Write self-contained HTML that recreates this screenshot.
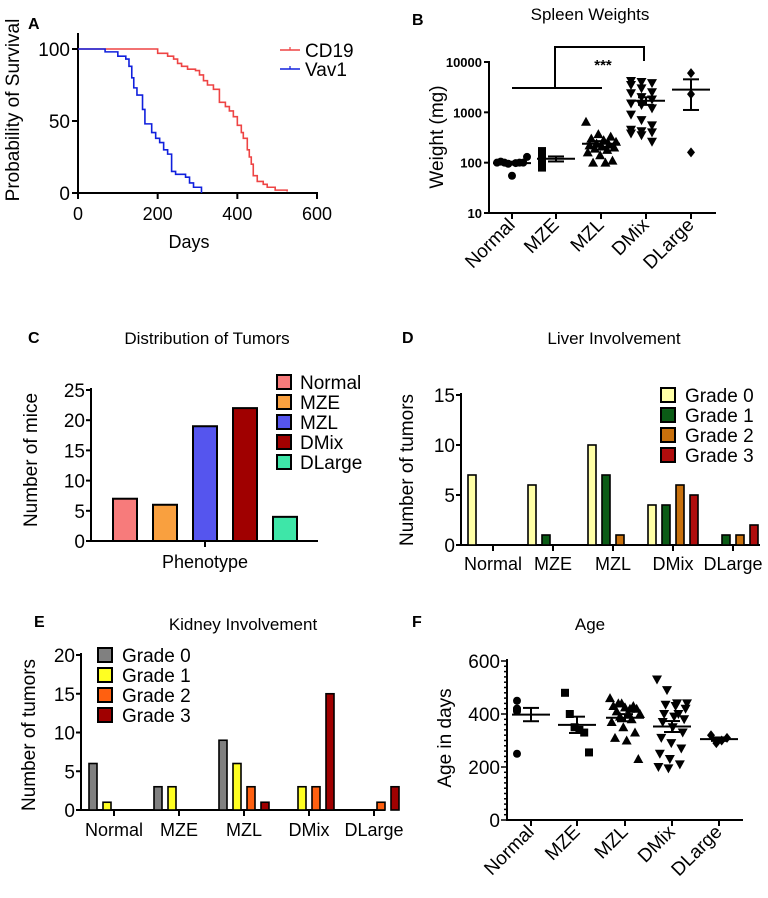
<!DOCTYPE html>
<html><head><meta charset="utf-8"><style>
html,body{margin:0;padding:0;background:#fff}
svg{display:block;font-family:"Liberation Sans",Arial,sans-serif}
</style></head><body>
<svg id="fig" width="768" height="898" viewBox="0 0 768 898" xmlns="http://www.w3.org/2000/svg"></svg>
<script>
// ---- Panel A data (Kaplan-Meier steps: day, percent) ----
const cd19Days = [0,200,225,240,250,260,275,295,305,315,325,340,355,370,380,390,400,410,415,425,430,435,440,450,465,475,495,525];
const cd19Surv = [100,97,95,93,90,88,86,85,82,78,75,72,63,60,57,53,47,42,38,30,25,20,12,8,6,4,2,1];
const vav1Days = [0,68,100,120,128,135,140,148,162,168,185,195,205,215,225,235,245,270,280,290,310];
const vav1Surv = [100,98,95,93,88,80,73,68,58,48,42,38,35,30,27,15,13,11,7,4,0];
const aXTicks = [0,200,400,600];
const aYTicks = [0,50,100];
// ---- Panel B data ----
const bCats = ["Normal","MZE","MZL","DMix","DLarge"];
const bNormal = [100,100,98,95,105,130,100,55,100];
const bMZE = [170,160,130,115,100,80,80];
const bMZL = [650,370,330,300,280,260,240,230,220,210,200,190,180,160,140,110,100,100];
const bDMix = [4200,4000,3800,3500,3000,2500,2400,2000,1800,1500,1400,1200,900,700,550,450,420,400,380,350,260];
const bDLarge = [6000,2300,160];
const bYTicks = [10,100,1000,10000];
// ---- Panel C data ----
const cCats = ["Normal","MZE","MZL","DMix","DLarge"];
const cCounts = [7,6,19,22,4];
const cYTicks = [0,5,10,15,20,25];
// ---- Panel D data ----
const dCats = ["Normal","MZE","MZL","DMix","DLarge"];
const dGrade0 = [7,6,10,4,0];
const dGrade1 = [0,1,7,4,1];
const dGrade2 = [0,0,1,6,1];
const dGrade3 = [0,0,0,5,2];
const dYTicks = [0,5,10,15];
// ---- Panel E data ----
const eCats = ["Normal","MZE","MZL","DMix","DLarge"];
const eGrade0 = [6,3,9,0,0];
const eGrade1 = [1,3,6,3,0];
const eGrade2 = [0,0,3,3,1];
const eGrade3 = [0,0,1,15,3];
const eYTicks = [0,5,10,15,20];
// ---- Panel F data ----
const fNormal = [450,420,420,410,415,420,250];
const fMZE = [480,400,350,340,330,255];
const fMZL = [460,440,430,430,425,420,410,400,400,390,380,370,350,330,310,300,230,440,420];
const fDMix = [530,490,440,440,435,430,420,400,390,380,370,350,330,310,290,270,250,230,210,200,195,400];
const fDLarge = [320,310,300,290];
const fYTicks = [0,200,400,600];

const NS="http://www.w3.org/2000/svg";
const svg=document.getElementById('fig');
function mk(tag,attrs,name,parent){
  const el=document.createElementNS(NS,tag);
  for(const k in attrs) el.setAttribute(k,attrs[k]);
  
  
  (parent||svg).appendChild(el);
  return el;
}
function txt(x,y,s,size,name,opts){
  opts=opts||{};
  const a={x:x,y:y,'font-size':size,fill:'#000'};
  if(opts.anchor) a['text-anchor']=opts.anchor;
  if(opts.weight) a['font-weight']=opts.weight;
  if(opts.rot!==undefined) a.transform='rotate('+opts.rot+' '+x+' '+y+')';
  const t=mk('text',a,name);
  t.textContent=s;
  return t;
}
function line(x1,y1,x2,y2,name,w,c){
  return mk('line',{x1:x1,y1:y1,x2:x2,y2:y2,stroke:c||'#000','stroke-width':w||2},name);
}

// ================= Panel A =================
(function(){
  const X=d=>78+d*(317-78)/600, Y=p=>193-p*(193-49)/100;
  txt(28,29,'A',16,'panel-a-letter',{weight:'bold'});
  line(78,33,78,194,'a-y-axis');
  line(77,193,318,193,'a-x-axis');
  aYTicks.forEach(v=>{line(72,Y(v),78,Y(v),'a-y-tick');txt(70,Y(v)+7,String(v),19,'a-y-tick-label',{anchor:'end'});});
  aXTicks.forEach(v=>{line(X(v),193,X(v),199,'a-x-tick');txt(X(v),220,String(v),18,'a-x-tick-label',{anchor:'middle'});});
  txt(189,248,'Days',18,'a-x-axis-title',{anchor:'middle'});
  txt(19,110,'Probability of Survival',19,'a-y-axis-title',{anchor:'middle',rot:-90});
  function km(days,surv,color,name){
    let d='M'+X(days[0])+' '+Y(surv[0]);
    for(let i=1;i<days.length;i++){d+=' H'+X(days[i])+' V'+Y(surv[i]);}
    mk('path',{d:d,fill:'none',stroke:color,'stroke-width':1.6},name);
  }
  km(cd19Days,cd19Surv,'#ee4444','cd19-curve');
  km(vav1Days,vav1Surv,'#1020dd','vav1-curve');
  line(280,50,300,50,'legend-cd19-swatch',1.6,'#ee4444');line(290,47,290,50,'legend-cd19-tick',1.2,'#ee4444');
  txt(305,57,'CD19',19,'legend-cd19');
  line(280,69,300,69,'legend-vav1-swatch',1.6,'#1020dd');line(290,66,290,69,'legend-vav1-tick',1.2,'#1020dd');
  txt(305,76,'Vav1',19,'legend-vav1');
})();

function marker(shape,x,y,name){
  if(shape==='circle') return mk('circle',{cx:x,cy:y,r:4,fill:'#000'},name);
  if(shape==='square') return mk('rect',{x:x-4,y:y-4,width:8,height:8,fill:'#000'},name);
  if(shape==='up') return mk('path',{d:`M${x} ${y-5}L${x+5} ${y+4}L${x-5} ${y+4}Z`,fill:'#000'},name);
  if(shape==='down') return mk('path',{d:`M${x} ${y+5}L${x+5} ${y-4}L${x-5} ${y-4}Z`,fill:'#000'},name);
  return mk('path',{d:`M${x} ${y-5}L${x+4} ${y}L${x} ${y+5}L${x-4} ${y}Z`,fill:'#000'},name);
}
function stats(a){const m=a.reduce((s,v)=>s+v,0)/a.length;const sd=Math.sqrt(a.reduce((s,v)=>s+(v-m)*(v-m),0)/(a.length-1));return [m,sd/Math.sqrt(a.length)];}
function scatterGroup(vals,cx,Y,shape,name){
  const n=vals.length, span=n<=3?0:Math.min(30,n*4);
  vals.forEach((v,i)=>{const off=n>1?((i*7)%n)/(n-1)*span-span/2:0;marker(shape,cx+off,Y(v),name+'-point');});
  const [m,se]=stats(vals);
  line(cx-19,Y(m),cx+19,Y(m),name+'-mean',2);
  line(cx,Y(m+se),cx,Y(Math.max(m-se,1e-9)),name+'-sem',2);
  line(cx-8,Y(m+se),cx+8,Y(m+se),name+'-sem-cap',2);
  line(cx-8,Y(m-se),cx+8,Y(m-se),name+'-sem-cap',2);
}

// ================= Panel B =================
(function(){
  const Y=v=>213-(Math.log10(v)-1)*(213-62)/3;
  const xs=[512,556,601,646,691];
  txt(412,25,'B',16,'panel-b-letter',{weight:'bold'});
  txt(590,20,'Spleen Weights',17,'b-title',{anchor:'middle'});
  line(489,61,489,214,'b-y-axis');
  line(488,213,716,213,'b-x-axis');
  bYTicks.forEach(v=>{line(484,Y(v),489,Y(v),'b-y-tick');txt(482,Y(v)+5,String(v),13,'b-y-tick-label',{anchor:'end',weight:'bold'});});
  txt(443,137,'Weight  (mg)',19,'b-y-axis-title',{anchor:'middle',rot:-90});
  const groups=[bNormal,bMZE,bMZL,bDMix,bDLarge], shapes=['circle','square','up','down','diamond'];
  bCats.forEach((c,i)=>{line(xs[i],213,xs[i],219,'b-x-tick');txt(xs[i]+4,226,c,19,'b-x-label-'+c.toLowerCase(),{anchor:'end',rot:-45});
    scatterGroup(groups[i],xs[i],Y,shapes[i],'b-'+c.toLowerCase());});
  line(512,88,602,88,'b-sig-bar');
  mk('path',{d:'M555 88V47H644V61',fill:'none',stroke:'#000','stroke-width':2},'b-sig-bracket');
  txt(603,70,'***',15,'b-sig-stars',{anchor:'middle',weight:'bold'});
})();

function barPanel(cfg){
  const Y=v=>cfg.y0-v*(cfg.y0-cfg.yTop)/cfg.yMax;
  line(cfg.ax,cfg.yTop-2,cfg.ax,cfg.y0+1,cfg.p+'-y-axis');
  line(cfg.ax-1,cfg.y0,cfg.xEnd,cfg.y0,cfg.p+'-x-axis');
  cfg.ticks.forEach(v=>{line(cfg.ax-5,Y(v),cfg.ax,Y(v),cfg.p+'-y-tick');txt(cfg.ax-6,Y(v)+7,String(v),19,cfg.p+'-y-tick-label',{anchor:'end'});});
  return Y;
}

// ================= Panel C =================
(function(){
  const Y=barPanel({p:'c',ax:91,y0:541,yTop:390,yMax:25,xEnd:318,ticks:cYTicks});
  const xs=[125,165,205,245,285], cols=['#f77b7b','#f9a03f','#5555ee','#a00000','#3ee6a8'];
  txt(28,343,'C',16,'panel-c-letter',{weight:'bold'});
  txt(207,344,'Distribution of Tumors',17,'c-title',{anchor:'middle'});
  txt(37,460,'Number of mice',19,'c-y-axis-title',{anchor:'middle',rot:-90});
  line(205,541,205,547,'c-x-tick');
  txt(205,568,'Phenotype',18,'c-x-axis-title',{anchor:'middle'});
  cCounts.forEach((v,i)=>{mk('rect',{x:xs[i]-12,y:Y(v),width:24,height:541-Y(v),fill:cols[i],stroke:'#000','stroke-width':2},'c-bar-'+cCats[i].toLowerCase());});
  cCats.forEach((c,i)=>{const y=382+i*20;mk('rect',{x:277,y:y-7,width:14,height:14,fill:cols[i],stroke:'#000','stroke-width':2},'c-legend-swatch');txt(300,y+7,c,19,'c-legend-'+c.toLowerCase());});
})();

function groupedBars(p,Y,y0,gx0,gstep,bstep,series,cols,cats){
  series.forEach((s,k)=>{s.forEach((v,i)=>{if(v<=0)return;const cx=gx0+i*gstep+k*bstep;
    mk('rect',{x:cx-4,y:Y(v),width:8,height:y0-Y(v),fill:cols[k],stroke:'#000','stroke-width':1.6},p+'-bar-'+cats[i].toLowerCase()+'-grade'+k);});});
}

// ================= Panel D =================
(function(){
  const Y=barPanel({p:'d',ax:461,y0:545,yTop:395,yMax:15,xEnd:760,ticks:dYTicks});
  const cols=['#ffffa6','#0b5c16','#c8700c','#b00d0d'];
  txt(402,343,'D',16,'panel-d-letter',{weight:'bold'});
  txt(614,344,'Liver Involvement',17,'d-title',{anchor:'middle'});
  txt(413,470,'Number of tumors',19,'d-y-axis-title',{anchor:'middle',rot:-90});
  groupedBars('d',Y,545,472,60,14,[dGrade0,dGrade1,dGrade2,dGrade3],cols,dCats);
  dCats.forEach((c,i)=>{const gx=493+i*60;line(gx,545,gx,551,'d-x-tick');txt(gx,570,c,18,'d-x-label-'+c.toLowerCase(),{anchor:'middle'});});
  ['Grade 0','Grade 1','Grade 2','Grade 3'].forEach((g,i)=>{const y=395+i*20;mk('rect',{x:661,y:y-7,width:14,height:14,fill:cols[i],stroke:'#000','stroke-width':2},'d-legend-swatch');txt(685,y+7,g,19,'d-legend-grade'+i);});
})();

// ================= Panel E =================
(function(){
  const Y=barPanel({p:'e',ax:81,y0:810,yTop:655,yMax:20,xEnd:385,ticks:eYTicks});
  const cols=['#808080','#ffff22','#ff6010','#a00000'];
  txt(34,627,'E',16,'panel-e-letter',{weight:'bold'});
  txt(243,630,'Kidney Involvement',17,'e-title',{anchor:'middle'});
  txt(35,735,'Number of tumors',19,'e-y-axis-title',{anchor:'middle',rot:-90});
  groupedBars('e',Y,810,93,65,14,[eGrade0,eGrade1,eGrade2,eGrade3],cols,eCats);
  eCats.forEach((c,i)=>{const gx=114+i*65;line(gx,810,gx,816,'e-x-tick');txt(gx,836,c,18,'e-x-label-'+c.toLowerCase(),{anchor:'middle'});});
  ['Grade 0','Grade 1','Grade 2','Grade 3'].forEach((g,i)=>{const y=655+i*20;mk('rect',{x:98,y:y-7,width:14,height:14,fill:cols[i],stroke:'#000','stroke-width':2},'e-legend-swatch');txt(122,y+7,g,19,'e-legend-grade'+i);});
})();

// ================= Panel F =================
(function(){
  const Y=v=>820-v*(820-661)/600;
  const xs=[531,577,625,672,719];
  txt(412,627,'F',16,'panel-f-letter',{weight:'bold'});
  txt(590,630,'Age',17,'f-title',{anchor:'middle'});
  line(507,659,507,821,'f-y-axis');
  line(506,820,743,820,'f-x-axis');
  for(let v=0;v<=600;v+=20){line(v%200===0?501:504,Y(v),507,Y(v),'f-y-minor-tick',1.5);}
  fYTicks.forEach(v=>{txt(500,Y(v)+7,String(v),19,'f-y-tick-label',{anchor:'end'});});
  txt(451,738,'Age in days',19,'f-y-axis-title',{anchor:'middle',rot:-90});
  const groups=[fNormal,fMZE,fMZL,fDMix,fDLarge], shapes=['circle','square','up','down','diamond'];
  bCats.forEach((c,i)=>{line(xs[i],820,xs[i],826,'f-x-tick');txt(xs[i]+4,833,c,19,'f-x-label-'+c.toLowerCase(),{anchor:'end',rot:-45});
    scatterGroup(groups[i],xs[i],Y,shapes[i],'f-'+c.toLowerCase());});
})();
</script>
</body></html>
